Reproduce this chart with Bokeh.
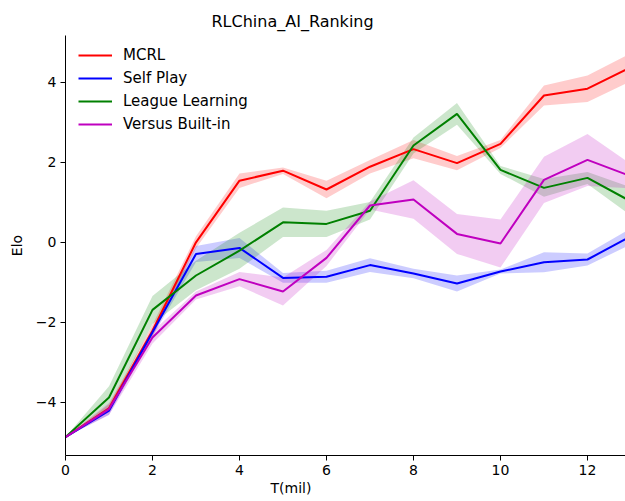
from bokeh.plotting import figure
from bokeh.models import (ColumnDataSource, FixedTicker, CustomJSTickFormatter,
                          Legend, LegendItem, Title, Range1d)
from bokeh.embed import file_html
from bokeh.resources import INLINE

# training steps (millions)
steps = list(range(14))

# mean Elo and spread per method
mcrl_mean = [-4.87, -4.15, -2.21, 0.00, 1.54, 1.79, 1.32, 1.89, 2.33, 1.98, 2.46, 3.67, 3.84, 4.38]
mcrl_std = [0.0, 0.10, 0.15, 0.15, 0.18, 0.08, 0.22, 0.17, 0.23, 0.18, 0.10, 0.25, 0.33, 0.35]

self_mean = [-4.87, -4.21, -2.25, -0.29, -0.14, -0.89, -0.86, -0.57, -0.78, -1.03, -0.73, -0.50, -0.43, 0.15]
self_std = [0.0, 0.10, 0.10, 0.20, 0.25, 0.12, 0.15, 0.17, 0.12, 0.20, 0.05, 0.25, 0.15, 0.20]

league_mean = [-4.87, -3.88, -1.69, -0.83, -0.21, 0.50, 0.46, 0.79, 2.42, 3.21, 1.81, 1.36, 1.61, 1.02]
league_std = [0.0, 0.28, 0.35, 0.37, 0.45, 0.37, 0.33, 0.22, 0.20, 0.27, 0.10, 0.22, 0.15, 0.35]

builtin_mean = [-4.87, -4.17, -2.38, -1.33, -0.92, -1.23, -0.39, 0.92, 1.07, 0.21, -0.03, 1.56, 2.06, 1.65]
builtin_std = [0.0, 0.15, 0.15, 0.10, 0.18, 0.35, 0.20, 0.10, 0.48, 0.50, 0.60, 0.58, 0.65, 0.30]

labels = ["MCRL", "Self Play", "League Learning", "Versus Built-in"]
colors = ["#ff0000", "#0000ff", "#008000", "#bf00bf"]
means = [mcrl_mean, self_mean, league_mean, builtin_mean]
stds = [mcrl_std, self_std, league_std, builtin_std]

x_ticks = [0, 2, 4, 6, 8, 10, 12]
y_ticks = [-4, -2, 0, 2, 4]

FONT = "DejaVu Sans"

p = figure(width=625, height=501, output_backend="svg", toolbar_location=None,
           x_range=Range1d(0, 12.874), y_range=Range1d(-5.33, 5.17),
           min_border_left=65, min_border_right=0, min_border_top=35, min_border_bottom=46)

p.outline_line_color = None
p.xgrid.visible = False
p.ygrid.visible = False
p.background_fill_color = "white"
p.border_fill_color = "white"

# title
p.title.text = "RLChina_AI_Ranking"
p.title.align = "left"
p.title.offset = 146
p.title.text_font = FONT
p.title.text_font_size = "16px"
p.title.text_font_style = "normal"
p.title.text_color = "black"

# axes
fmt = CustomJSTickFormatter(code="return tick < 0 ? '\u2212' + (-tick) : '' + tick;")
for ax, ticks in ((p.xaxis[0], x_ticks), (p.yaxis[0], y_ticks)):
    ax.ticker = FixedTicker(ticks=ticks)
    ax.formatter = fmt
    ax.minor_tick_line_color = None
    ax.major_tick_in = 0
    ax.major_tick_out = 5
    ax.axis_line_color = "black"
    ax.major_tick_line_color = "black"
    ax.major_label_text_font = FONT
    ax.major_label_text_font_size = "14px"
    ax.major_label_text_color = "black"
    ax.axis_label_text_font = FONT
    ax.axis_label_text_font_size = "14px"
    ax.axis_label_text_font_style = "normal"
    ax.axis_label_text_color = "black"

p.yaxis[0].axis_label = "Elo"
p.yaxis[0].axis_label_standoff = 8
p.yaxis[0].major_label_standoff = 4
p.xaxis[0].major_label_standoff = 4

p.add_layout(Title(text="T(mil)", align="left", offset=205, text_font=FONT,
                   text_font_size="14px", text_font_style="normal",
                   text_color="black", standoff=0), "below")

# shaded spread bands underneath all lines
for m, s, c in zip(means, stds, colors):
    lo = [a - b for a, b in zip(m, s)]
    hi = [a + b for a, b in zip(m, s)]
    src = ColumnDataSource(dict(x=steps, lo=lo, hi=hi))
    p.varea(x="x", y1="lo", y2="hi", source=src, fill_color=c, fill_alpha=0.2)

items = []
for m, c, lab in zip(means, colors, labels):
    src = ColumnDataSource(dict(x=steps, y=m))
    r = p.line(x="x", y="y", source=src, line_color=c, line_width=2)
    items.append(LegendItem(label=lab, renderers=[r]))

legend = Legend(items=items, location=(13, 321), border_line_color=None,
                background_fill_alpha=0, padding=0, margin=0, spacing=3,
                glyph_width=34, glyph_height=20, label_height=20, label_standoff=11,
                label_text_font=FONT, label_text_font_size="15px", label_text_color="black")
p.add_layout(legend)

open("out.html", "w").write(file_html(p, INLINE))
